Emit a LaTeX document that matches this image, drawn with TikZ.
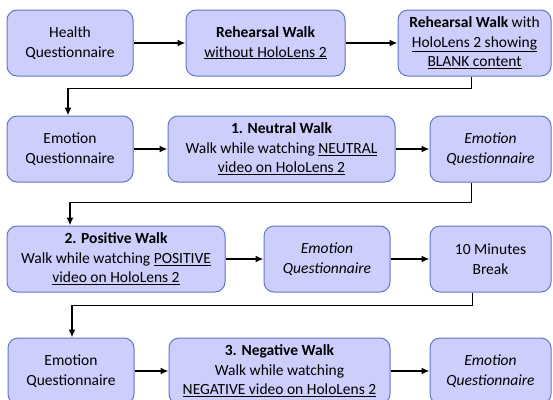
\documentclass[tikz,border=0pt]{standalone}
\usepackage{fontspec}
\setmainfont{Carlito}
\usetikzlibrary{arrows.meta}
\definecolor{stagefill}{RGB}{205,206,252}
\definecolor{stageline}{RGB}{100,118,198}

\begin{document}
\begin{tikzpicture}[x=1pt, y=-1pt,
    stage/.style={rectangle, rounded corners=10pt, draw=stageline, line width=1pt, fill=stagefill, align=center, minimum height=66pt, inner sep=2pt, font=\fontsize{15.5}{19.5}\selectfont},
    flow/.style={-{Latex[length=8pt,width=7pt]}, line width=1.6pt}]
        \useasboundingbox (0,0) rectangle (553,399);

        \node[stage, minimum width=126pt] (healthq) at (70,43) {Health\\Questionnaire};
        \node[stage, minimum width=159pt] (rehearsal) at (265.5,43) {\textbf{Rehearsal Walk}\\\underline{without HoloLens 2}};
        \node[stage, minimum width=153pt] (rehearsalhl) at (474.5,43) {\textbf{Rehearsal Walk} with\\\underline{HoloLens 2 showing}\\\underline{BLANK content}};

        \node[stage, minimum width=126pt] (emotionqa) at (70,149) {Emotion\\Questionnaire};
        \node[stage, minimum width=227pt] (neutralwalk) at (281.5,149) {\textbf{1. Neutral Walk}\\Walk while watching \underline{NEUTRAL}\\\underline{video on HoloLens 2}};
        \node[stage, minimum width=121pt] (emotionqb) at (490.5,149) {\textit{Emotion}\\\textit{Questionnaire}};

        \node[stage, minimum width=218pt] (positivewalk) at (116,259) {\textbf{2. Positive Walk}\\Walk while watching \underline{POSITIVE}\\\underline{video on HoloLens 2}};
        \node[stage, minimum width=126pt] (emotionqc) at (327,259) {\textit{Emotion}\\\textit{Questionnaire}};
        \node[stage, minimum width=121pt] (pausebreak) at (490.5,259) {10 Minutes\\Break};

        \node[stage, minimum width=126pt] (emotionqd) at (71,371) {Emotion\\Questionnaire};
        \node[stage, minimum width=221pt] (negativewalk) at (279.5,371) {\textbf{3. Negative Walk}\\Walk while watching\\\underline{NEGATIVE video on HoloLens 2}};
        \node[stage, minimum width=121pt] (emotionqe) at (490.5,371) {\textit{Emotion}\\\textit{Questionnaire}};

        % arrows within rows
        \draw[flow] (healthq) -- (rehearsal);
        \draw[flow] (rehearsal) -- (rehearsalhl);
        \draw[flow] (emotionqa) -- (neutralwalk);
        \draw[flow] (neutralwalk) -- (emotionqb);
        \draw[flow] (positivewalk) -- (emotionqc);
        \draw[flow] (emotionqc) -- (pausebreak);
        \draw[flow] (emotionqd) -- (negativewalk);
        \draw[flow] (negativewalk) -- (emotionqe);

        % arrows between rows
        \draw[flow] ([xshift=-3pt]rehearsalhl.south) -- ++(0,12) -| ([xshift=-2pt]emotionqa.north);
        \draw[flow] ([xshift=-19pt]emotionqb.south) -- ++(0,20) -| (emotionqa.north |- positivewalk.north);
        \draw[flow] ([xshift=-18pt]pausebreak.south) -- ++(0,13) -| ([xshift=1pt]emotionqd.north);
    \end{tikzpicture}
\end{document}
